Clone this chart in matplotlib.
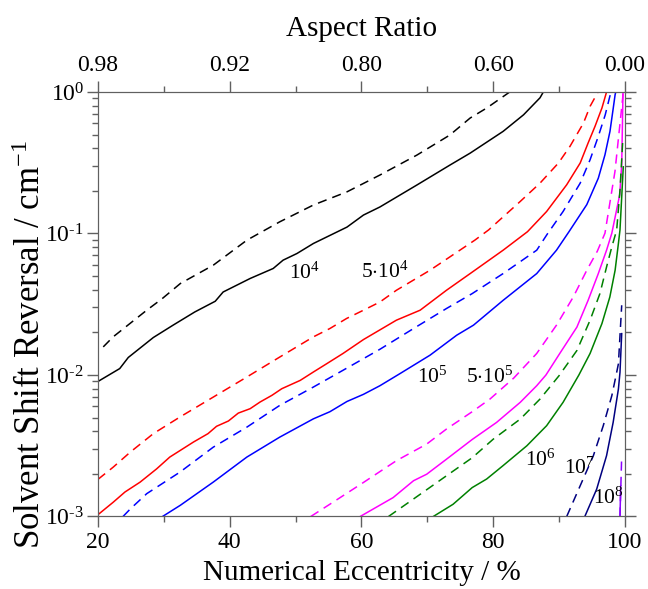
import numpy as np
import matplotlib.pyplot as plt
from matplotlib.ticker import LogLocator, NullFormatter

plt.rcParams['font.family'] = ['Liberation Serif', 'DejaVu Serif']
plt.rcParams['mathtext.fontset'] = 'custom'
plt.rcParams['mathtext.rm'] = 'Liberation Serif'
plt.rcParams['mathtext.it'] = 'Liberation Serif:italic'

# eccentricity (%) / solvent shift reversal (cm^-1)
x_1e4 = [20, 23.3, 24.6, 28.4, 31.4, 34.7, 37.8, 39.0, 43.1, 46.6, 48.1, 50.2, 52.7, 57.8, 60.3, 62.8, 68.4, 73.4, 76.5, 81.5, 84.6, 87.1, 87.6]
y_1e4 = [0.0090, 0.0111, 0.0133, 0.0184, 0.0225, 0.0279, 0.0332, 0.0386, 0.0481, 0.0566, 0.0648, 0.0722, 0.0850, 0.111, 0.135, 0.154, 0.220, 0.304, 0.37, 0.527, 0.69, 0.91, 1.0]
x_1e4_d = [20.8, 22.3, 27.4, 29.7, 32.5, 37.5, 42.6, 47.6, 52.7, 57.8, 62.8, 68.4, 73.4, 76.5, 79.0, 82.5]
y_1e4_d = [0.0158, 0.0186, 0.0287, 0.0345, 0.0443, 0.0597, 0.0897, 0.121, 0.159, 0.197, 0.259, 0.358, 0.496, 0.655, 0.77, 1.0]

x_5e4 = [20, 22.3, 24.1, 26.4, 28.9, 30.9, 34.5, 36.7, 38.0, 39.8, 41.3, 43.1, 44.6, 46.4, 47.9, 50.7, 52.7, 54.7, 57.2, 60.3,
         65.3, 68.9, 72.9, 76.5, 81.5, 85.2, 88.1, 91.15, 93.2, 94.4, 95.45, 96.5, 97.2]
y_5e4 = [0.00103, 0.00126, 0.00149, 0.00175, 0.00217, 0.00263, 0.00336, 0.00385, 0.00434, 0.00473, 0.00538, 0.00578, 0.00644,
         0.00718, 0.0080, 0.00916, 0.0105, 0.0120, 0.0142, 0.0178,
         0.0244, 0.0287, 0.0397, 0.0521, 0.0762, 0.103, 0.143, 0.221, 0.315, 0.436, 0.572, 0.771, 1.0]
x_5e4_d = [20, 22.3, 24.9, 28.4, 32.45, 37.5, 42.6, 47.6, 52.7, 55.2, 57.75, 60.3, 62.8, 65.3, 70.4, 77.2, 79.3, 84.1, 87.1,
           89.9, 91.65, 93.7, 94.7, 95.9]
y_5e4_d = [0.00183, 0.00223, 0.00285, 0.00385, 0.00505, 0.00698, 0.00968, 0.0134, 0.0186, 0.0213, 0.0251, 0.0287, 0.0328,
           0.0397, 0.055, 0.0897, 0.106, 0.1685, 0.227, 0.315, 0.413, 0.604, 0.792, 1.0]

x_1e5 = [29.8, 32.5, 37.5, 42.6, 47.6, 52.7, 55.2, 57.8, 60.3, 62.8, 65.8, 70.4, 74.45, 77.0, 81.5, 86.6, 89.6, 91.5, 94.2,
         95.95, 96.96, 97.72, 98.22, 98.5, 98.6]
y_1e5 = [0.001, 0.0012, 0.00175, 0.00263, 0.00364, 0.0049, 0.0055, 0.0065, 0.0073, 0.0084, 0.0102, 0.0138, 0.0191, 0.0225,
         0.0337, 0.0521, 0.0762, 0.103, 0.160, 0.246, 0.36, 0.527, 0.771, 0.957, 1.0]
x_1e5_d = [23.8, 24.9, 27.4, 32.45, 37.5, 42.6, 47.6, 52.7, 57.2, 62.8, 67.9, 72.9, 76.8, 81.5, 86.6, 88.2, 90.6, 93.2, 94.7,
           95.95, 97.0, 97.7, 97.9]
y_1e5_d = [0.001, 0.00113, 0.00145, 0.00206, 0.00309, 0.00428, 0.0061, 0.00822, 0.0108, 0.0152, 0.0213, 0.0295, 0.0376,
           0.0521, 0.0762, 0.099, 0.143, 0.227, 0.332, 0.486, 0.69, 0.933, 1.0]

x_5e5 = [59.8, 64.8, 67.9, 69.9, 72.9, 76.8, 80.5, 84.1, 86.6, 88.0, 90.1, 92.7, 94.4, 95.95, 97.2, 98.0, 99.2, 99.5, 99.7]
y_5e5 = [0.001, 0.00136, 0.00179, 0.00199, 0.00254, 0.0035, 0.00462, 0.00641, 0.0084, 0.0100, 0.0142, 0.0218, 0.0337,
         0.0521, 0.0762, 0.1005, 0.188, 0.306, 1.0]
x_5e5_d = [52.3, 56.0, 60.3, 65.3, 69.9, 72.9, 76.8, 79.5, 83.1, 86.6, 89.6, 92.15, 94.2, 95.8, 96.96, 98.48, 99.65, 99.7]
y_5e5_d = [0.001, 0.00129, 0.00174, 0.00248, 0.00325, 0.00415, 0.0055, 0.00676, 0.0095, 0.0142, 0.0225, 0.0356, 0.055,
           0.075, 0.1005, 0.275, 0.91, 1.0]

x_1e6 = [70.9, 73.9, 76.8, 79.0, 81.5, 85.1, 88.1, 90.6, 93.0, 94.7, 96.5, 97.7, 98.5, 99.0, 99.24, 99.74]
y_1e6 = [0.001, 0.00122, 0.0016, 0.00184, 0.00229, 0.00316, 0.00438, 0.00641, 0.0100, 0.0142, 0.0231, 0.0356, 0.055,
         0.085, 0.106, 0.296]
x_1e6_d = [64.1, 67.9, 72.9, 76.8, 80.0, 84.1, 87.1, 90.0, 92.7, 94.7, 96.2, 97.2, 98.0, 98.74, 99.24, 99.65]
y_1e6_d = [0.001, 0.00133, 0.00194, 0.0026, 0.00352, 0.00488, 0.00676, 0.0099, 0.0149, 0.0244, 0.0377, 0.058, 0.0804,
           0.106, 0.203, 0.445]

x_1e7 = [93.9, 95.7, 97.2, 98.2, 99.0, 99.24, 99.5]
y_1e7 = [0.001, 0.00156, 0.00269, 0.00462, 0.00796, 0.01045, 0.0196]
x_1e7_d = [91.15, 93.2, 95.2, 96.7, 98.0, 98.74, 99.0, 99.5]
y_1e7_d = [0.001, 0.00165, 0.00269, 0.00438, 0.00714, 0.01045, 0.012, 0.0311]

x_1e8 = [99.24, 99.35]
y_1e8 = [0.001, 0.00165]
x_1e8_d = [99.24, 99.5]
y_1e8_d = [0.001, 0.00269]

top_labels = ['0.98', '0.92', '0.80', '0.60', '0.00']
y_ticks = [1e-3, 1e-2, 1e-1, 1e0]
y_tick_labels = ['10$^{\\text{-}3}$', '10$^{\\text{-}2}$', '10$^{\\text{-}1}$', '10$^{0}$']

fig = plt.figure(figsize=(6.48, 5.89), dpi=100)
ax = fig.add_axes([0.1512, 0.1231, 0.8133, 0.7207])

lw = 1.1
dash = (6, 4)
curves = [
    (x_1e4, y_1e4, x_1e4_d, y_1e4_d, 'black'),
    (x_5e4, y_5e4, x_5e4_d, y_5e4_d, 'red'),
    (x_1e5, y_1e5, x_1e5_d, y_1e5_d, 'blue'),
    (x_5e5, y_5e5, x_5e5_d, y_5e5_d, 'magenta'),
    (x_1e6, y_1e6, x_1e6_d, y_1e6_d, 'green'),
    (x_1e7, y_1e7, x_1e7_d, y_1e7_d, '#000080'),
    (x_1e8, y_1e8, x_1e8_d, y_1e8_d, '#8b00ff'),
]
for xs, ys, xd, yd, c in curves:
    ax.plot(xs, ys, color=c, lw=lw)
    ax.plot(xd, yd, color=c, lw=lw, dashes=dash)

ax.set_yscale('log')
ax.set_xlim(20, 100)
ax.set_ylim(1e-3, 1e0)

# labels on the curves
fs_lab = 15.5
ax.text(51.4, 0.052, '10$^4$', fontsize=fs_lab, ha='center', va='center')
ax.text(63.5, 0.053, '5$\\cdot$10$^4$', fontsize=fs_lab, ha='center', va='center')
ax.text(70.8, 0.0096, '10$^5$', fontsize=fs_lab, ha='center', va='center')
ax.text(79.4, 0.0096, '5$\\cdot$10$^5$', fontsize=fs_lab, ha='center', va='center')
ax.text(87.1, 0.0025, '10$^6$', fontsize=fs_lab, ha='center', va='center')
ax.text(93.1, 0.0022, '10$^7$', fontsize=fs_lab, ha='center', va='center')
ax.text(97.5, 0.00134, '10$^8$', fontsize=fs_lab, ha='center', va='center')

ax.set_xlabel('Numerical Eccentricity / %', fontsize=21, labelpad=5)
ax.set_ylabel('Solvent Shift Reversal / cm$^{-1}$', fontsize=25)
ax.yaxis.set_label_coords(-0.095, 0.405)

spine_c = '#606060'
ax.set_xticks([20, 40, 60, 80, 100])
ax.set_xticks([30, 50, 70, 90], minor=True)
ax.set_yticks(y_ticks, labels=y_tick_labels)
ax.yaxis.set_minor_locator(LogLocator(base=10, subs=np.arange(2, 10), numticks=10))
ax.yaxis.set_minor_formatter(NullFormatter())
ax.tick_params(which='both', direction='out', colors=spine_c, labelcolor='black',
               top=False, right=True, labelsize=17)
ax.tick_params(which='major', length=8, width=1)
ax.tick_params(which='minor', length=4, width=1)
ax.tick_params(axis='y', which='major', pad=2)
for s in ax.spines.values():
    s.set_color(spine_c)

ax2 = ax.twiny()
ax2.set_xlim(ax.get_xlim())
ax2.set_xticks([20, 40, 60, 80, 100])
ax2.set_xticks([30, 50, 70, 90], minor=True)
ax2.set_xticklabels(top_labels)
ax2.tick_params(which='both', direction='out', colors=spine_c, labelcolor='black', labelsize=17)
ax2.tick_params(which='major', length=8, width=1)
ax2.tick_params(which='minor', length=4, width=1)
ax2.set_xlabel('Aspect Ratio', fontsize=21, labelpad=14)
for s in ax2.spines.values():
    s.set_color(spine_c)

fig.savefig('out.png', dpi=100)
